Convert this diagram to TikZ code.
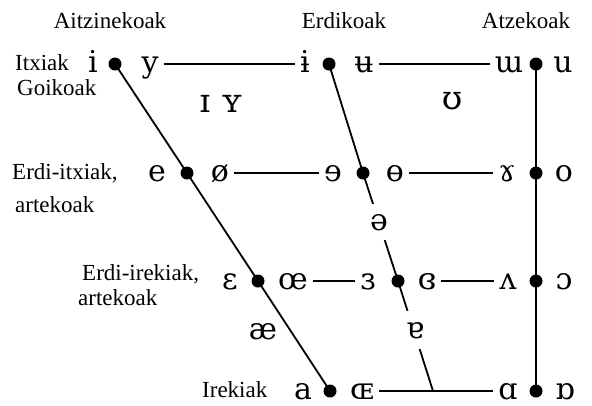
\documentclass[tikz,border=0pt]{standalone}
\usepackage{fontspec}
\setmainfont{Liberation Serif}
\newfontfamily\ipafont{DejaVu Serif}
\begin{document}
\begin{tikzpicture}[x=1pt,y=-1pt,
  sym/.style={font=\ipafont\fontsize{30}{32}\selectfont, inner xsep=5pt, inner ysep=0pt, text height=16pt, text depth=0pt},
  bigsym/.style={sym, font=\ipafont\fontsize{33}{35}\selectfont},
  lab/.style={font=\fontsize{23}{26}\selectfont, anchor=base west, inner sep=0pt},
  hlab/.style={font=\fontsize{23}{26}\selectfont, anchor=base, inner sep=0pt},
  ln/.style={line width=1.8pt},
  dotc/.style={circle, fill=black, minimum size=13pt, inner sep=0pt}]
\useasboundingbox (0,0) rectangle (592,405);
% grid corners
\coordinate (cf) at (115,64);  \coordinate (cc) at (329,64);  \coordinate (cb) at (536,64);
\coordinate (cmf) at (187,173); \coordinate (cmc) at (363,173); \coordinate (cmb) at (536,173);
\coordinate (omf) at (258,281); \coordinate (omc) at (398,281); \coordinate (omb) at (536,281);
\coordinate (of) at (330,391);  \coordinate (oc) at (433,391);  \coordinate (ob) at (536,391);
% frame lines
\draw[ln] (cf) -- (cmf) -- (omf) -- (of);
\draw[ln] (cc) -- (cmc) -- (omc) -- (oc);
\draw[ln] (cb) -- (cmb) -- (omb) -- (ob);
% dots
\foreach \p in {cf,cc,cb,cmf,cmc,cmb,omf,omc,omb,of,ob}
  \node[dotc] (d\p) at (\p) {};
% vowels
\node[sym] (i) at (93,64) {i};
\node[sym] (y) at (150,64) {y};
\node[sym] (ibar) at (305,64) {ɨ};
\node[sym] (ubar) at (364,64) {ʉ};
\node[sym] (wturn) at (509,64) {ɯ};
\node[sym] (u) at (563,64) {u};
\node[bigsym] (smi) at (205,104) {ɪ};
\node[bigsym] (smy) at (232,104) {ʏ};
\node[bigsym] (hsu) at (452,101) {ʊ};
\node[sym] (e) at (157,173) {e};
\node[sym] (oslash) at (220,173) {ø};
\node[sym] (reve) at (333,173) {ɘ};
\node[sym] (obar) at (395,173) {ɵ};
\node[sym] (ramshorn) at (507,173) {ɤ};
\node[sym] (o) at (564,173) {o};
\node[sym, fill=white, inner ysep=10pt] (schwa) at (379,222) {ə};
\node[sym] (eps) at (230,281) {ɛ};
\node[sym] (oe) at (293,281) {œ};
\node[sym] (reveps) at (368,281) {ɜ};
\node[sym] (creveps) at (427,281) {ɞ};
\node[sym] (turnv) at (508,281) {ʌ};
\node[sym] (openo) at (564,281) {ɔ};
\node[sym] (ae) at (263,331) {æ};
\node[sym, fill=white, inner ysep=11pt] (turna) at (415,330) {ɐ};
\node[sym] (a) at (303,391) {a};
\node[sym] (smoe) at (362,391) {ɶ};
\node[sym] (alpha) at (508,391) {ɑ};
\node[sym] (turnalpha) at (565,391) {ɒ};
% row lines
\draw[ln] (y) -- (ibar);
\draw[ln] (ubar) -- (wturn);
\draw[ln] (oslash) -- (reve);
\draw[ln] (obar) -- (ramshorn);
\draw[ln] (oe) -- (reveps);
\draw[ln] (creveps) -- (turnv);
\draw[ln] (smoe) -- (alpha);
% labels
\node[hlab] (front) at (110,28) {Aitzinekoak};
\node[hlab] (central) at (344,28) {Erdikoak};
\node[hlab] (back) at (526,28) {Atzekoak};
\node[lab] (close1) at (15,70) {Itxiak};
\node[lab] (close2) at (17,95) {Goikoak};
\node[lab] (cmid1) at (12,179) {Erdi-itxiak,};
\node[lab] (cmid2) at (15,212) {artekoak};
\node[lab] (omid1) at (82,280) {Erdi-irekiak,};
\node[lab] (omid2) at (78,305) {artekoak};
\node[lab] (open) at (202,397) {Irekiak};
\end{tikzpicture}
\end{document}
